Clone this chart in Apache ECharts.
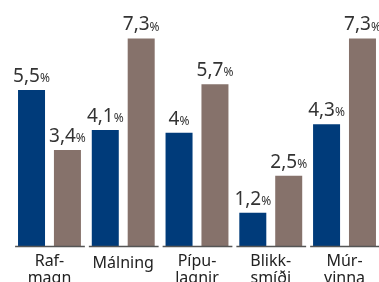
<!DOCTYPE html>
<html>
<head>
<meta charset="utf-8">
<script src="https://cdn.jsdelivr.net/npm/echarts@6/dist/echarts.min.js"></script>
<style>
  html, body { margin: 0; padding: 0; background: #fff; }
  #chart { width: 379px; height: 282px; }
</style>
</head>
<body>
<div id="chart"></div>
<script>
var categories = ['Raf-\nmagn', 'Málning', 'Pípu-\nlagnir', 'Blikk-\nsmíði', 'Múr-\nvinna'];
var seriesA = [5.5, 4.1, 4.0, 1.2, 4.3];
var seriesB = [3.4, 7.3, 5.7, 2.5, 7.3];

var FONT = 'Noto Sans';

function pctLabel(p) {
    return '{a|' + String(p.value).replace('.', ',') + '}{b|%}';
}

var labelCfg = {
    show: true,
    position: 'top',
    distance: 4,
    formatter: pctLabel,
    rich: {
        a: { fontFamily: FONT, fontSize: 19, color: '#333' },
        b: { fontFamily: FONT, fontSize: 12, color: '#333', padding: [4, 0, 0, 0] }
    }
};

var chart = echarts.init(document.getElementById('chart'));
var option = {
    animation: false,
    grid: { left: 12.6, width: 368.8, top: 18.6, bottom: 35, outerBoundsMode: 'none' },
    xAxis: {
        type: 'category',
        data: categories,
        axisLine: { show: false },
        axisTick: { show: false },
        axisLabel: {
            margin: 6,
            fontFamily: FONT,
            fontSize: 16,
            lineHeight: 17,
            color: '#222',
            interval: 0,
            formatter: function (v) {
                // single-line names sit a little lower
                return v.indexOf('\n') < 0 ? '{one|' + v + '}' : v;
            },
            rich: {
                one: { fontFamily: FONT, fontSize: 16, color: '#222', padding: [4, 0, 0, 0] }
            }
        }
    },
    yAxis: {
        type: 'value',
        min: 0,
        max: 8,
        show: false
    },
    series: [
        {
            type: 'bar',
            data: seriesA,
            barWidth: 27,
            barGap: '33%',
            itemStyle: { color: '#003b7a' },
            label: labelCfg
        },
        {
            type: 'bar',
            data: seriesB,
            barWidth: 27,
            itemStyle: { color: '#86726b' },
            label: labelCfg
        },
        {
            // separate baseline segment under each category
            type: 'custom',
            data: categories.map(function (c, i) { return [i, 0]; }),
            renderItem: function (params, api) {
                var p = api.coord([api.value(0), 0]);
                var bw = api.size([1, 0])[0];
                return {
                    type: 'line',
                    shape: { x1: p[0] - bw / 2 + 2.5, y1: p[1] - 0.5, x2: p[0] + bw / 2 - 1.5, y2: p[1] - 0.5 },
                    style: { stroke: '#555', lineWidth: 1.5 }
                };
            },
            z: 3
        }
    ]
};
chart.setOption(option);
window.addEventListener('resize', function () {
    chart.resize();
});
</script>
</body>
</html>
